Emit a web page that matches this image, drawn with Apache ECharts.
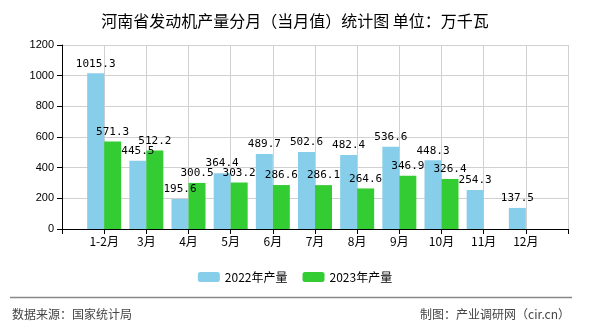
<!DOCTYPE html>
<html>
<head>
<meta charset="utf-8">
<script src="https://cdn.jsdelivr.net/npm/echarts@6/dist/echarts.min.js"></script>
<style>
html,body{margin:0;padding:0;background:#fff;}
#chart{width:590px;height:330px;}
</style>
</head>
<body>
<div id="chart"></div>
<script>
// Monthly engine output, Henan province (10k kW)
var months = ['1-2月', '3月', '4月', '5月', '6月', '7月', '8月', '9月', '10月', '11月', '12月'];
var output2022 = [1015.3, 445.5, 195.6, 364.4, 489.7, 502.6, 482.4, 536.6, 448.3, 254.3, 137.5];
var output2023 = [571.3, 512.2, 300.5, 303.2, 286.6, 286.1, 264.6, 346.9, 326.4];
var yTicks = [0, 200, 400, 600, 800, 1000, 1200];

// pad with empty slots at both ends so bars sit on the tick lines
var cats = [''].concat(months).concat(['']);
function pad(arr) {
  var out = ['-'];
  for (var i = 0; i < months.length; i++) out.push(i < arr.length ? arr[i] : '-');
  out.push('-');
  return out;
}

var numFont = '"DejaVu Sans Mono", monospace';
var cjkFont = '"Noto Sans CJK SC", sans-serif';

var chart = echarts.init(document.getElementById('chart'), null, {renderer: 'canvas'});
var labelStyle = {
  show: true, position: 'top', distance: 4,
  color: '#000', fontSize: 11, fontFamily: numFont
};
chart.setOption({
  animation: false,
  backgroundColor: '#fff',
  title: {
    text: '河南省发动机产量分月（当月值）统计图 单位：万千瓦',
    left: 'center', top: 8,
    textStyle: {fontSize: 16, fontWeight: 'normal', color: '#000', fontFamily: cjkFont}
  },
  legend: {
    top: 266, left: 'center',
    itemWidth: 22, itemHeight: 10, itemGap: 15,
    textStyle: {fontSize: 12, color: '#000', fontFamily: cjkFont},
    data: ['2022年产量', '2023年产量']
  },
  grid: {left: 62, right: 22, top: 45, bottom: 101},
  xAxis: {
    type: 'category', data: cats, boundaryGap: false,
    axisLine: {lineStyle: {color: '#000', width: 1}},
    axisTick: {show: true, length: 5, lineStyle: {color: '#000'}, interval: 0},
    axisLabel: {color: '#000', fontSize: 12, fontFamily: cjkFont, interval: 0, margin: 6},
    splitLine: {show: true, interval: 0, lineStyle: {color: '#d0d0d0', width: 1}}
  },
  yAxis: {
    type: 'value', min: yTicks[0], max: yTicks[yTicks.length - 1], interval: 200,
    axisLine: {show: true, lineStyle: {color: '#000', width: 1}},
    axisTick: {show: true, length: 5, lineStyle: {color: '#000'}},
    axisLabel: {
      color: '#000', fontSize: 11, fontFamily: '"Liberation Sans", sans-serif', margin: 8,
      formatter: function (v) { return String(v); }
    },
    splitLine: {show: true, lineStyle: {color: '#d0d0d0', width: 1}}
  },
  series: [
    {
      name: '2022年产量', type: 'bar', data: pad(output2022),
      barWidth: 17, barGap: '0%',
      itemStyle: {color: '#87ceeb'},
      label: labelStyle
    },
    {
      name: '2023年产量', type: 'bar', data: pad(output2023),
      barWidth: 17, barGap: '0%',
      itemStyle: {color: '#33cc33'},
      label: labelStyle
    }
  ],
  graphic: [
    {type: 'line', shape: {x1: 10, y1: 297.5, x2: 572, y2: 297.5}, style: {stroke: '#888', lineWidth: 1.5}},
    {type: 'text', left: 12, top: 308, style: {text: '数据来源：国家统计局', fill: '#444', font: '12px ' + cjkFont}},
    {type: 'text', right: 20, top: 308, style: {text: '制图：产业调研网（cir.cn）', fill: '#444', font: '12px ' + cjkFont}}
  ]
});
</script>
</body>
</html>
